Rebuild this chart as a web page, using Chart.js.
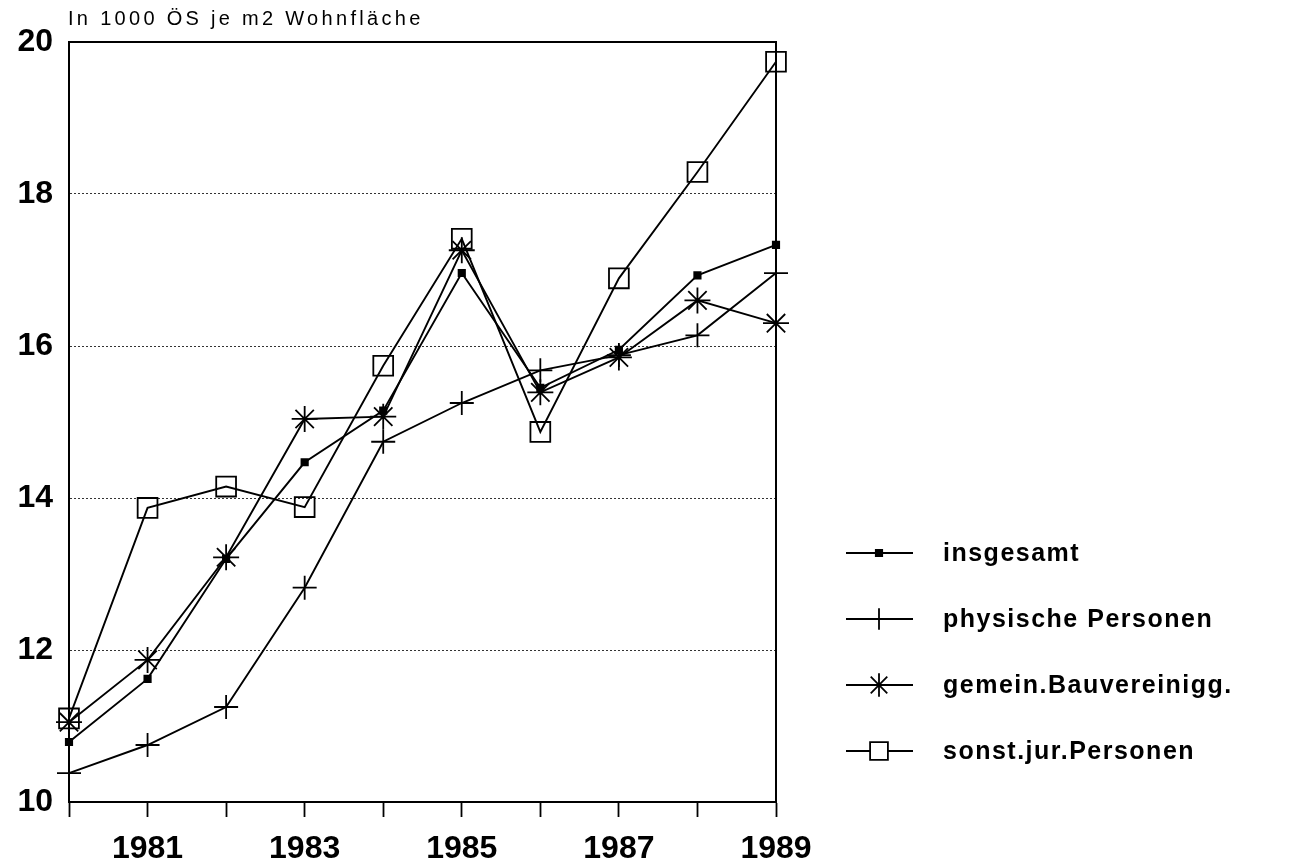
<!DOCTYPE html>
<html lang="de">
<head>
<meta charset="utf-8">
<title>Baukosten je m2 Wohnfläche 1980-1989</title>
<script src="https://cdn.jsdelivr.net/npm/chart.js@4.4.1/dist/chart.umd.min.js"></script>
<style>
  html, body { margin: 0; padding: 0; background: #fff; }
  #wrap { width: 1309px; height: 868px; }
</style>
</head>
<body>
<div id="wrap"><canvas id="kosten" width="1309" height="868"></canvas></div>
<script>
// Werte in 1000 ÖS je m2 Wohnfläche
const jahre     = [1980, 1981, 1982, 1983, 1984, 1985, 1986, 1987, 1988, 1989];
const insgesamt = [10.79, 11.62, 13.20, 14.47, 15.15, 16.96, 15.45, 15.95, 16.93, 17.33];
const physisch  = [10.38, 10.75, 11.25, 12.82, 14.74, 15.25, 15.68, 15.88, 16.14, 16.96];
const gemeinn   = [11.05, 11.87, 13.22, 15.04, 15.07, 17.26, 15.39, 15.85, 16.60, 16.30];
const sonstJur  = [11.10, 13.87, 14.15, 13.88, 15.74, 17.41, 14.87, 16.89, 18.29, 19.74];

const yTicks      = [10, 12, 14, 16, 18, 20];
const xTickLabels = ['1981', '1983', '1985', '1987', '1989'];
const einheit     = 'In 1000 ÖS je m2 Wohnfläche';

const FONT = '"Liberation Sans", Arial, Helvetica, sans-serif';

const punkte = (werte) => werte.map((v, i) => ({ x: jahre[i], y: v }));

function serie(label, werte, style, radius, fill) {
  return {
    label,
    data: punkte(werte),
    borderColor: '#000',
    borderWidth: 1.9,
    tension: 0,
    fill: false,
    clip: false,
    pointStyle: style,
    pointRadius: radius,
    pointHoverRadius: radius,
    pointBorderColor: '#000',
    pointBorderWidth: 1.8,
    pointBackgroundColor: fill
  };
}

const datasets = [
  serie('insgesamt', insgesamt, 'rect', 4.5, '#000'),
  serie('physische Personen', physisch, 'cross', 12, '#000'),
  serie('gemein.Bauvereinigg.', gemeinn, 'star', 13, '#000'),
  serie('sonst.jur.Personen', sonstJur, 'rect', 14, 'rgba(0,0,0,0)')
];

// Einheit oben links
const titelPlugin = {
  id: 'einheit',
  afterDraw(chart) {
    const ctx = chart.ctx;
    ctx.save();
    ctx.fillStyle = '#000';
    ctx.font = '20px ' + FONT;
    if ('letterSpacing' in ctx) ctx.letterSpacing = '3.3px';
    ctx.textAlign = 'left';
    ctx.textBaseline = 'alphabetic';
    ctx.fillText(einheit, chart.chartArea.left - 1, 25);
    ctx.restore();
  }
};

// Rahmen oben und rechts
const rahmenPlugin = {
  id: 'rahmen',
  afterDraw(chart) {
    const { ctx, chartArea: a } = chart;
    ctx.save();
    ctx.strokeStyle = '#000';
    ctx.lineWidth = 2;
    ctx.beginPath();
    ctx.moveTo(a.left, a.top);
    ctx.lineTo(a.right, a.top);
    ctx.lineTo(a.right, a.bottom);
    ctx.stroke();
    ctx.restore();
  }
};

// Legende rechts neben dem Diagramm
const legendePlugin = {
  id: 'legendeRechts',
  afterDraw(chart) {
    const ctx = chart.ctx;
    const x0 = 846, x1 = 913, xm = 879, xt = 943;
    const top = 553, abstand = 66;
    chart.data.datasets.forEach((ds, i) => {
      const y = top + i * abstand;
      ctx.save();
      ctx.strokeStyle = '#000';
      ctx.lineWidth = 1.8;
      ctx.beginPath();
      ctx.moveTo(x0, y);
      ctx.lineTo(x1, y);
      ctx.stroke();
      const offen = ds.pointBackgroundColor === 'rgba(0,0,0,0)';
      ctx.fillStyle = offen ? '#fff' : ds.pointBackgroundColor;
      ctx.lineWidth = ds.pointBorderWidth;
      Chart.helpers.drawPoint(ctx, {
        pointStyle: ds.pointStyle,
        rotation: 0,
        radius: ds.pointStyle === 'rect' && !offen ? ds.pointRadius : ds.pointRadius * 0.9,
        borderWidth: ds.pointBorderWidth
      }, xm, y);
      ctx.fillStyle = '#000';
      ctx.font = 'bold 25px ' + FONT;
      if ('letterSpacing' in ctx) ctx.letterSpacing = '1.5px';
      ctx.textAlign = 'left';
      ctx.textBaseline = 'middle';
      ctx.fillText(ds.label, xt, y + 1);
      ctx.restore();
    });
  }
};

new Chart(document.getElementById('kosten'), {
  type: 'line',
  data: { datasets },
  options: {
    responsive: false,
    devicePixelRatio: 1,
    animation: false,
    events: [],
    layout: { padding: { top: 42, right: 533, left: 0, bottom: 0 } },
    plugins: {
      legend: { display: false },
      tooltip: { enabled: false }
    },
    scales: {
      x: {
        type: 'linear',
        min: 1980,
        max: 1989,
        afterFit: (s) => { s.height = 66; },
        ticks: {
          stepSize: 1,
          autoSkip: false,
          maxRotation: 0,
          padding: 13,
          color: '#000',
          font: { family: FONT, size: 32, weight: 'bold' },
          callback: (v) => xTickLabels.includes(String(v)) ? String(v) : ''
        },
        grid: {
          drawOnChartArea: false,
          drawTicks: true,
          tickLength: 15,
          tickWidth: 1.8,
          tickColor: '#000',
          color: '#000'
        },
        border: { display: true, color: '#000', width: 2 }
      },
      y: {
        min: 10,
        max: 20,
        afterFit: (s) => { s.width = 69; },
        afterBuildTicks: (s) => { s.ticks = yTicks.map(v => ({ value: v })); },
        ticks: {
          padding: 16,
          color: '#000',
          font: { family: FONT, size: 32, weight: 'bold' }
        },
        grid: {
          drawTicks: false,
          lineWidth: 1,
          color: (c) => (c.tick && (c.tick.value === 10 || c.tick.value === 20)) ? 'rgba(0,0,0,0)' : '#333'
        },
        border: { display: true, color: '#000', width: 2, dash: [2, 2] }
      }
    }
  },
  plugins: [titelPlugin, rahmenPlugin, legendePlugin]
});
</script>
</body>
</html>
